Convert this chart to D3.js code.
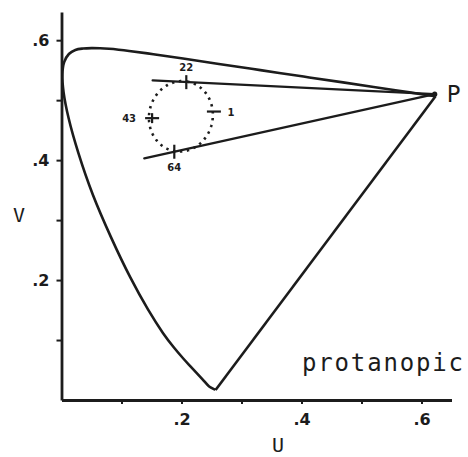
<!DOCTYPE html>
<html>
<head>
<meta charset="utf-8">
<script src="https://cdn.jsdelivr.net/npm/d3@7"></script>
<style>
  html, body { margin: 0; padding: 0; background: #fff; }
  svg { display: block; }
</style>
</head>
<body>
<svg id="chart" width="468" height="457"></svg>
<script>
// CIE 1976 u'v' spectrum locus (380 nm to 700 nm)
const locusNm = [380, 420, 430, 440, 450, 455, 460, 465, 470, 475, 480, 485, 490, 495, 500, 505, 510, 515, 520, 525, 530, 535, 540, 545, 550, 560, 570, 580, 590, 600, 610, 620, 630, 640, 650, 660, 680, 700];
const locusU = [0.2568, 0.2565, 0.2461, 0.2347, 0.2161, 0.2033, 0.1877, 0.1690, 0.1441, 0.1147, 0.0828, 0.0521, 0.0282, 0.0119, 0.0035, 0.0014, 0.0046, 0.0123, 0.0231, 0.0360, 0.0501, 0.0643, 0.0792, 0.0953, 0.1127, 0.1531, 0.2026, 0.2623, 0.3315, 0.4035, 0.4692, 0.5203, 0.5565, 0.5830, 0.6005, 0.6109, 0.6199, 0.6234];
const locusV = [0.0166, 0.0169, 0.0226, 0.0350, 0.0549, 0.0688, 0.0871, 0.1119, 0.1510, 0.2044, 0.2708, 0.3427, 0.4117, 0.4698, 0.5131, 0.5432, 0.5638, 0.5770, 0.5837, 0.5861, 0.5868, 0.5865, 0.5856, 0.5841, 0.5821, 0.5766, 0.5694, 0.5604, 0.5501, 0.5393, 0.5296, 0.5219, 0.5165, 0.5125, 0.5099, 0.5084, 0.5070, 0.5065];

// protanopic copunctal point and the two confusion lines drawn from it
const copunctal = [0.622, 0.510];
const confusionStartU = [0.152, 0.138];
const confusionStartV = [0.533, 0.403];

// discrimination ellipse (centre, semi-axes, tilt in degrees)
const ellipseCentre = [0.199, 0.473];
const ellipseAxes = [0.059, 0.053];
const ellipseTilt = 78;

// numbered samples on the ellipse: label, u, v, mark direction
const sampleLabels = ["22", "1", "43", "64"];
const sampleU = [0.208, 0.254, 0.151, 0.188];
const sampleV = [0.530, 0.481, 0.470, 0.414];
const sampleMark = ["v", "h", "+", "v"];

// axis ticks
const tickValues = [0.1, 0.2, 0.3, 0.4, 0.5, 0.6];
const labelledTicks = [0.2, 0.4, 0.6];

const ink = "#1c1c1c";
const svg = d3.select("#chart");

const x = d3.scaleLinear().domain([0, 0.65]).range([61.5, 451.5]);
const y = d3.scaleLinear().domain([0, 0.647]).range([400, 12]);

const fmt = d => labelledTicks.some(t => Math.abs(t - d) < 1e-9) ? d3.format(".1f")(d).replace(/^0/, "") : "";

// axes
const yAxis = svg.append("g")
  .attr("transform", `translate(${x(0)},0)`)
  .call(d3.axisLeft(y).tickValues(tickValues).tickFormat(fmt).tickSize(5).tickSizeOuter(0).tickPadding(7));
const xAxis = svg.append("g")
  .attr("transform", `translate(0,${y(0)})`)
  .call(d3.axisBottom(x).tickValues(tickValues).tickFormat(fmt).tickSize(4).tickSizeOuter(0).tickPadding(7));

[yAxis, xAxis].forEach(g => {
  g.select(".domain").attr("stroke", ink).attr("stroke-width", 2.8);
  g.selectAll(".tick line").attr("stroke", ink).attr("stroke-width", 2);
  g.selectAll(".tick text")
    .attr("fill", ink)
    .style("font-family", "'DejaVu Sans', sans-serif")
    .style("font-weight", "bold")
    .style("font-size", "16px");
});
xAxis.selectAll(".tick text").attr("dy", "0.9em");

// spectrum locus closed by the purple line
const locus = locusU.map((u, i) => [u, locusV[i]]);
svg.append("path")
  .datum(locus)
  .attr("d", d3.line().x(d => x(d[0])).y(d => y(d[1])).curve(d3.curveCatmullRom.alpha(0.5)))
  .attr("fill", "none")
  .attr("stroke", ink)
  .attr("stroke-width", 2.6)
  .attr("stroke-linejoin", "round");
svg.append("line")
  .attr("x1", x(locusU[0])).attr("y1", y(locusV[0]))
  .attr("x2", x(locusU[locusU.length - 1])).attr("y2", y(locusV[locusV.length - 1]))
  .attr("stroke", ink).attr("stroke-width", 2.6);

// confusion lines
confusionStartU.forEach((u, i) => {
  svg.append("line")
    .attr("x1", x(u)).attr("y1", y(confusionStartV[i]))
    .attr("x2", x(copunctal[0])).attr("y2", y(copunctal[1]))
    .attr("stroke", ink).attr("stroke-width", 2.4).attr("stroke-linecap", "round");
});
svg.append("circle")
  .attr("cx", x(copunctal[0])).attr("cy", y(copunctal[1])).attr("r", 2.6).attr("fill", ink);

// dotted ellipse
const tilt = ellipseTilt * Math.PI / 180;
const ellipsePts = d3.range(0, 2 * Math.PI + 0.001, Math.PI / 90).map(t => {
  const a = ellipseAxes[0] * Math.cos(t), b = ellipseAxes[1] * Math.sin(t);
  return [ellipseCentre[0] + a * Math.cos(tilt) - b * Math.sin(tilt),
          ellipseCentre[1] + a * Math.sin(tilt) + b * Math.cos(tilt)];
});
svg.append("path")
  .datum(ellipsePts)
  .attr("d", d3.line().x(d => x(d[0])).y(d => y(d[1])))
  .attr("fill", "none")
  .attr("stroke", ink)
  .attr("stroke-width", 2.6)
  .attr("stroke-dasharray", "2.4 4.6");

// sample marks and labels
const labelOffset = { "22": [0, -11], "1": [17, 4], "43": [-23, 4], "64": [0, 19] };
sampleLabels.forEach((lab, i) => {
  const cx = x(sampleU[i]), cy = y(sampleV[i]);
  const g = svg.append("g").attr("stroke", ink).attr("stroke-width", 2.2);
  if (sampleMark[i] === "v" || sampleMark[i] === "+") {
    const h = sampleMark[i] === "+" ? 5 : 7;
    g.append("line").attr("x1", cx).attr("x2", cx).attr("y1", cy - h).attr("y2", cy + h);
  }
  if (sampleMark[i] === "h" || sampleMark[i] === "+") {
    g.append("line").attr("x1", cx - 7).attr("x2", cx + 7).attr("y1", cy).attr("y2", cy);
  }
  svg.append("text")
    .attr("x", cx + labelOffset[lab][0]).attr("y", cy + labelOffset[lab][1])
    .attr("text-anchor", "middle")
    .attr("fill", ink)
    .style("font-family", "'DejaVu Sans', sans-serif")
    .style("font-weight", "bold")
    .style("font-size", "10px")
    .text(lab);
});

// text labels
const mono = "'DejaVu Sans Mono', monospace";
svg.append("text").attr("x", x(copunctal[0]) + 12).attr("y", 102)
  .attr("fill", ink).style("font-family", mono).style("font-size", "23px").text("P");
svg.append("text").attr("x", 302).attr("y", 371)
  .attr("fill", ink).style("font-family", mono).style("font-size", "24px")
  .attr("textLength", 161).attr("lengthAdjust", "spacing").text("protanopic");
svg.append("text").attr("x", 278).attr("y", 452).attr("text-anchor", "middle")
  .attr("fill", ink).style("font-family", mono).style("font-size", "20px").text("U");
svg.append("text").attr("x", 19).attr("y", 222).attr("text-anchor", "middle")
  .attr("fill", ink).style("font-family", mono).style("font-size", "20px").text("V");
</script>
</body>
</html>
